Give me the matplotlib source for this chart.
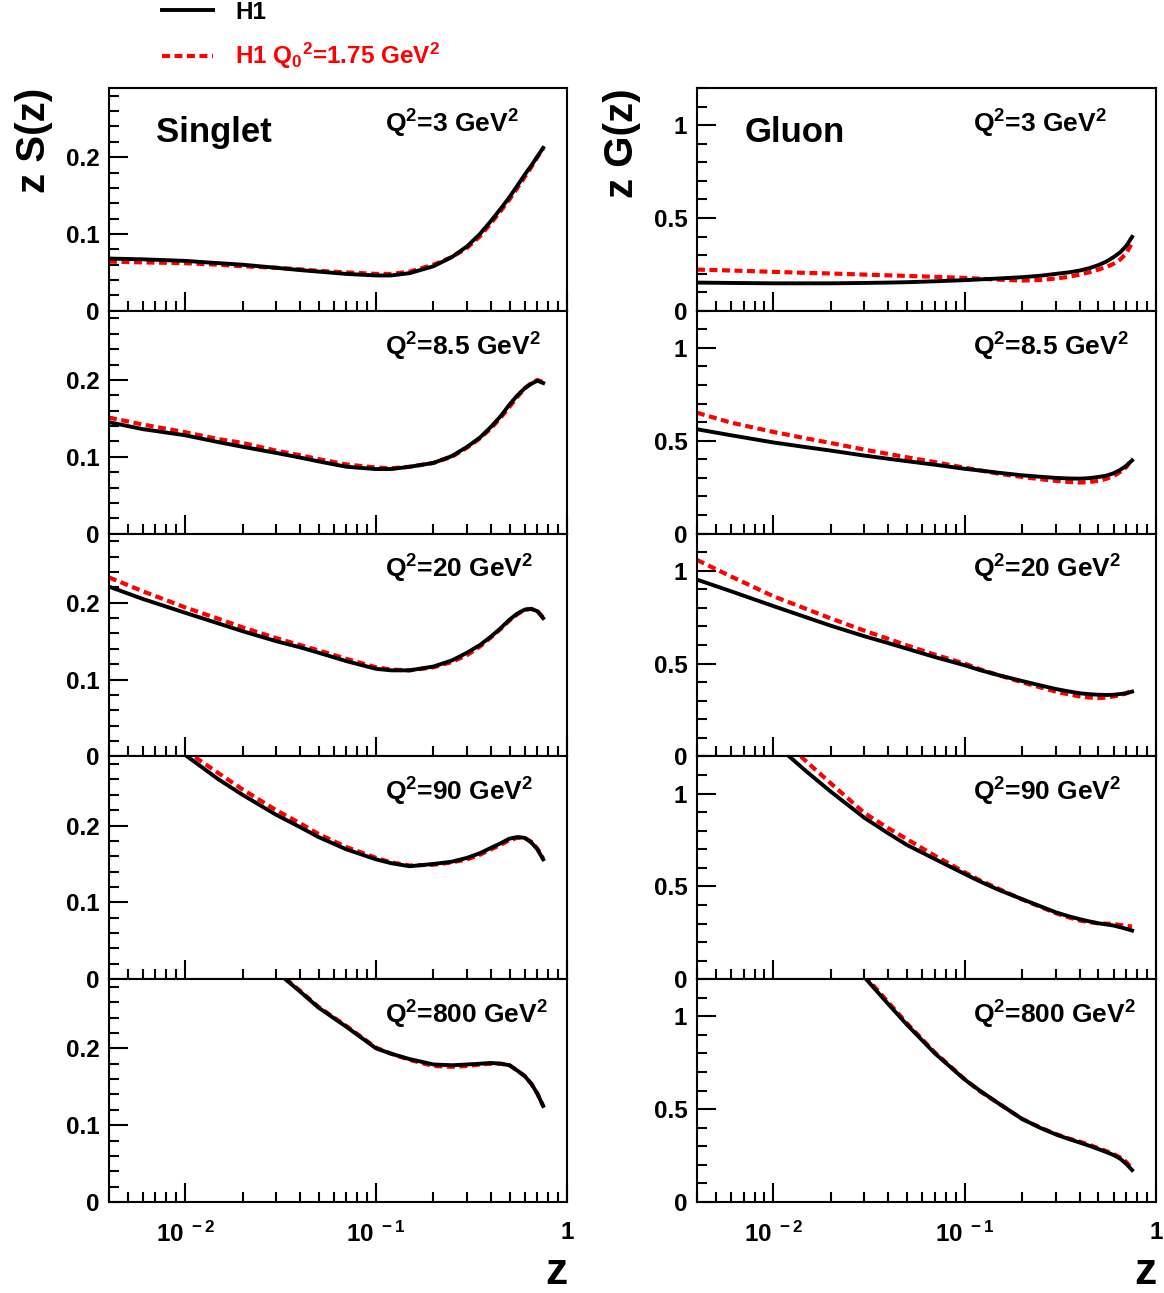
import numpy as np
import matplotlib
matplotlib.use("Agg")
import matplotlib.pyplot as plt
from matplotlib.ticker import FixedLocator, FixedFormatter, MultipleLocator, LogLocator, NullFormatter

plt.rcParams['font.family'] = ['Liberation Sans', 'DejaVu Sans']
plt.rcParams['font.weight'] = 'bold'
plt.rcParams['mathtext.fontset'] = 'custom'
plt.rcParams['mathtext.rm'] = 'Liberation Sans:bold'
plt.rcParams['mathtext.bf'] = 'Liberation Sans:bold'
plt.rcParams['mathtext.it'] = 'Liberation Sans:bold'

nan = np.nan

# momentum fraction grid
z = [0.004, 0.006, 0.01, 0.015, 0.02, 0.03, 0.04, 0.05, 0.07, 0.1, 0.12, 0.15,
     0.2, 0.25, 0.3, 0.35, 0.4, 0.45, 0.5, 0.55, 0.6, 0.65, 0.7, 0.75]

q2_labels = ['3', '8.5', '20', '90', '800']

# singlet z S(z): H1 fit and H1 fit with Q0^2 = 1.75 GeV^2
s_h1 = [
    [.068, .067, .065, .062, .060, .056, .053, .051, .048, .046, .046, .049, .058, .070, .084, .100, .117, .133, .148, .163, .177, .189, .201, .212],
    [.145, .136, .128, .119, .113, .105, .099, .094, .087, .084, .084, .087, .092, .101, .113, .125, .139, .153, .168, .180, .189, .195, .199, .196],
    [.221, .205, .187, .173, .163, .150, .142, .135, .124, .114, .112, .112, .117, .125, .135, .145, .156, .167, .178, .186, .191, .192, .189, .180],
    [nan, nan, .292, .260, .240, .214, .198, .185, .169, .156, .151, .147, .150, .153, .158, .164, .171, .177, .183, .185, .184, .178, .169, .156],
    [nan, nan, nan, nan, nan, .300, .274, .253, .228, .200, .193, .186, .179, .178, .179, .180, .181, .180, .178, .171, .164, .154, .141, .125],
]
s_q0 = [
    [.064, .063, .062, .060, .058, .056, .054, .052, .050, .048, .048, .051, .060, .070, .082, .097, .114, .130, .145, .160, .174, .187, .200, .211],
    [.151, .142, .132, .123, .118, .108, .102, .097, .090, .086, .085, .087, .092, .100, .112, .124, .137, .151, .165, .178, .189, .196, .200, .197],
    [.233, .215, .194, .179, .168, .154, .145, .138, .127, .116, .113, .112, .116, .123, .132, .143, .155, .166, .177, .185, .191, .192, .189, .181],
    [nan, nan, .298, .268, .247, .220, .203, .189, .172, .158, .152, .148, .149, .152, .156, .162, .169, .175, .181, .184, .184, .179, .170, .157],
    [nan, nan, nan, nan, nan, .301, .275, .254, .229, .201, .193, .185, .177, .176, .177, .179, .180, .180, .178, .171, .164, .154, .141, .125],
]

# gluon z G(z)
g_h1 = [
    [.152, .150, .148, .148, .148, .150, .152, .154, .159, .165, .169, .174, .181, .189, .199, .207, .217, .230, .246, .265, .289, .315, .350, .398],
    [.562, .530, .491, .465, .447, .420, .403, .390, .371, .349, .340, .328, .314, .306, .300, .297, .296, .299, .305, .312, .325, .343, .366, .394],
    [.952, .890, .810, .748, .704, .647, .610, .580, .535, .491, .465, .438, .406, .382, .363, .350, .340, .335, .332, .331, .332, .336, .340, .349],
    [nan, nan, 1.275, 1.117, 1.010, .869, .785, .723, .647, .567, .527, .482, .431, .392, .360, .339, .323, .311, .301, .295, .289, .280, .271, .262],
    [nan, nan, nan, nan, nan, 1.210, 1.065, .955, .800, .660, .600, .532, .447, .398, .364, .339, .320, .302, .285, .269, .253, .233, .205, .172],
]
g_q0 = [
    [.222, .217, .210, .204, .201, .195, .191, .188, .183, .177, .173, .168, .163, .166, .174, .183, .195, .208, .222, .236, .253, .276, .310, .367],
    [.651, .598, .548, .512, .488, .452, .429, .411, .385, .355, .341, .323, .305, .293, .284, .278, .275, .278, .284, .295, .310, .332, .358, .406],
    [1.058, .970, .863, .793, .743, .677, .633, .598, .548, .500, .470, .438, .399, .371, .349, .334, .323, .317, .314, .317, .323, .330, .340, .358],
    [nan, nan, 1.337, 1.170, 1.055, .895, .813, .754, .665, .576, .533, .488, .429, .389, .355, .333, .316, .307, .301, .299, .298, .292, .287, .284],
    [nan, nan, nan, nan, nan, 1.220, 1.075, .962, .805, .662, .597, .532, .447, .400, .366, .342, .325, .307, .290, .274, .258, .240, .215, .180],
]

W, H = 1164, 1293
fig = plt.figure(figsize=(W / 100, H / 100), dpi=100)

col_left = [109, 697]
col_width = [458, 459]
top0 = 88
ph = 222.8

columns = [
    dict(h1=s_h1, q0=s_q0, ymax=0.29, major=[0, 0.1, 0.2], labels=['0', '0.1', '0.2'],
         minor=0.02, ylabel='z S(z)', name='Singlet'),
    dict(h1=g_h1, q0=g_q0, ymax=1.2, major=[0, 0.5, 1.0], labels=['0', '0.5', '1'],
         minor=0.1, ylabel='z G(z)', name='Gluon'),
]

for c, col in enumerate(columns):
    for r in range(5):
        bottom = 1 - (top0 + ph * (r + 1)) / H
        ax = fig.add_axes([col_left[c] / W, bottom, col_width[c] / W, ph / H])
        red, = ax.plot(z, col['q0'][r], color='red', lw=3.0, dashes=(1.9, 1.1),
                       label=r'H1 Q$_{0}$$^{2}$=1.75 GeV$^{2}$')
        black, = ax.plot(z, col['h1'][r], color='black', lw=2.8, label='H1')
        ax.set_xscale('log')
        ax.set_xlim(0.004, 1)
        ax.set_ylim(0, col['ymax'])

        for s in ax.spines.values():
            s.set_linewidth(1.5)
        ax.yaxis.set_major_locator(FixedLocator(col['major']))
        ax.yaxis.set_major_formatter(FixedFormatter(col['labels']))
        ax.yaxis.set_minor_locator(MultipleLocator(col['minor']))
        ax.xaxis.set_major_locator(FixedLocator([0.01, 0.1, 1]))
        ax.xaxis.set_minor_locator(LogLocator(base=10, subs=np.arange(2, 10)))
        ax.xaxis.set_minor_formatter(NullFormatter())
        if r == 4:
            ax.xaxis.set_major_formatter(FixedFormatter(
                [r'$10^{\ -2}$', r'$10^{\ -1}$', '1']))
        else:
            ax.xaxis.set_major_formatter(NullFormatter())
        ax.tick_params(which='both', direction='in', top=False, right=False,
                       labelsize=17.5, width=1.5)
        ax.tick_params(which='major', length=14, pad=7)
        ax.tick_params(which='minor', length=7)
        ax.tick_params(axis='x', which='major', pad=14)

        ax.text(0.602, 0.84, r'Q$^{2}$=' + q2_labels[r] + r' GeV$^{2}$',
                transform=ax.transAxes, fontsize=19, ha='left', va='center')
        if r == 0:
            ax.text(0.103, 0.80, col['name'], transform=ax.transAxes,
                    fontsize=25, ha='left', va='center')
            ax.text(-0.164, 1.0, col['ylabel'], transform=ax.transAxes,
                    fontsize=29, rotation=90, ha='center', va='top')
        if r == 4:
            ax.text(0.976, -0.315, 'z', transform=ax.transAxes,
                    fontsize=32, ha='center', va='center')
        if c == 0 and r == 0:
            leg_handles = [black, red]

fig.legend(handles=leg_handles, loc='upper left', bbox_to_anchor=(162 / W, 1 - 1 / H),
           frameon=False, fontsize=17.5, handlelength=2.1, handletextpad=0.9,
           labelspacing=0.7, borderpad=0, borderaxespad=0, labelcolor='linecolor')

fig.savefig('out.png', dpi=100)
